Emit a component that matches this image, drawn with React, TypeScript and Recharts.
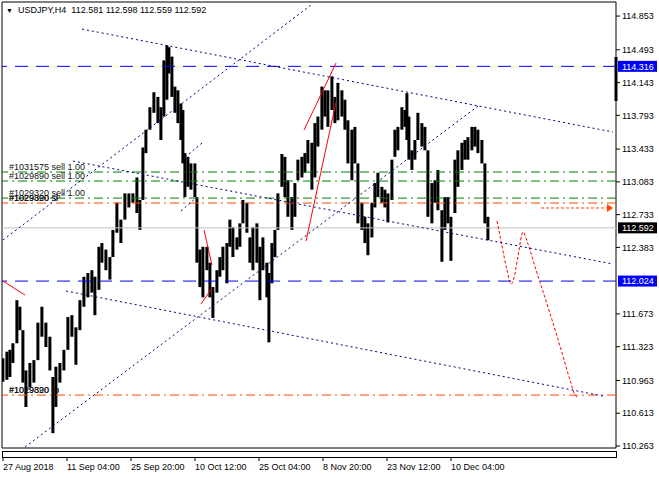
import React from "react";
import { ComposedChart, Bar, Line, XAxis, YAxis, ReferenceLine, ReferenceArea } from "recharts";

const FONT = "'Liberation Sans', Arial, sans-serif";
const NAVY = "#000080";
const BLUE = "#0000ff";
const GREEN = "#008000";
const ORANGE = "#ff4500";

// H4 bars, x = bar position on the time axis
const barX = [3, 7, 10, 13, 17, 20, 23, 26, 30, 34, 38, 42, 46, 50, 53, 56, 60, 64, 68, 72, 76, 80, 84, 88, 92, 95, 99, 102, 106, 110, 113, 117, 121, 125, 129, 133, 137, 140, 143, 146, 150, 154, 158, 161, 164, 167, 169, 172, 175, 178, 181, 183, 185, 188, 191, 195, 197, 200, 203, 207, 210, 213, 217, 220, 223, 227, 230, 233, 237, 240, 243, 247, 250, 253, 257, 260, 263, 267, 269, 272, 275, 278, 282, 285, 288, 292, 295, 298, 302, 305, 308, 312, 315, 318, 322, 325, 328, 332, 335, 338, 342, 345, 348, 352, 355, 358, 362, 365, 368, 372, 375, 378, 382, 385, 388, 392, 395, 398, 402, 405, 407, 409, 412, 415, 418, 422, 425, 428, 432, 435, 438, 442, 445, 448, 451, 455, 458, 462, 465, 468, 472, 475, 478, 482, 485, 488];
const barHigh = [111.20, 111.27, 111.29, 111.36, 111.82, 111.75, 111.50, 111.07, 111.15, 111.18, 111.58, 111.75, 111.58, 111.43, 111.00, 111.11, 111.15, 111.29, 111.64, 111.66, 111.53, 111.82, 112.07, 112.11, 112.14, 112.07, 112.39, 112.43, 112.36, 112.28, 112.57, 112.86, 112.68, 112.96, 112.96, 112.96, 113.13, 112.89, 113.45, 113.64, 113.88, 114.04, 113.99, 113.88, 114.38, 114.54, 114.52, 114.42, 114.10, 114.06, 113.92, 113.85, 113.39, 113.35, 113.28, 113.28, 112.92, 112.36, 112.39, 112.39, 112.22, 111.96, 112.14, 112.28, 112.39, 112.43, 112.68, 112.60, 112.49, 112.64, 112.89, 112.86, 112.49, 112.60, 112.64, 112.39, 112.49, 112.22, 112.11, 112.43, 112.57, 112.96, 113.38, 113.35, 113.10, 112.92, 113.07, 113.32, 113.35, 113.39, 113.53, 113.50, 113.71, 113.78, 114.10, 114.06, 114.06, 114.21, 113.99, 114.14, 114.06, 113.96, 113.74, 113.64, 113.67, 113.28, 112.86, 112.71, 112.64, 112.86, 113.07, 113.18, 113.03, 113.00, 112.96, 113.32, 113.64, 113.67, 113.88, 113.85, 114.03, 113.78, 113.42, 113.53, 113.82, 113.71, 113.67, 113.42, 113.07, 113.10, 113.21, 112.78, 112.92, 112.92, 112.71, 113.32, 113.42, 113.50, 113.53, 113.56, 113.67, 113.67, 113.64, 113.53, 113.28, 112.71];
const barLow = [110.95, 110.97, 111.00, 111.15, 111.36, 111.50, 110.94, 110.68, 110.89, 110.94, 111.18, 111.43, 111.32, 111.07, 110.40, 110.68, 110.94, 111.07, 111.29, 111.43, 111.13, 111.50, 111.75, 111.85, 111.90, 111.66, 111.93, 112.22, 112.14, 112.04, 112.28, 112.54, 112.43, 112.68, 112.81, 112.86, 112.75, 112.57, 112.89, 113.39, 113.64, 113.82, 113.71, 113.53, 113.78, 113.96, 114.24, 113.99, 113.82, 113.71, 113.53, 113.28, 112.92, 113.03, 113.00, 112.92, 112.22, 111.96, 111.85, 112.14, 111.85, 111.63, 111.90, 112.07, 112.14, 112.00, 112.39, 112.28, 112.36, 112.39, 112.64, 112.54, 112.22, 112.14, 112.22, 111.82, 112.14, 111.85, 111.37, 112.00, 112.28, 112.57, 113.03, 112.92, 112.71, 112.57, 112.71, 113.10, 113.13, 113.18, 113.28, 113.00, 113.13, 113.46, 113.64, 113.78, 113.67, 113.85, 113.71, 113.74, 113.78, 113.64, 113.28, 113.10, 113.28, 112.64, 112.57, 112.43, 112.30, 112.49, 112.81, 112.92, 112.86, 112.81, 112.65, 112.89, 113.35, 113.42, 113.64, 113.67, 113.53, 113.32, 113.21, 113.32, 113.53, 113.46, 113.42, 112.71, 112.64, 112.86, 112.78, 112.23, 112.57, 112.64, 112.24, 112.75, 113.03, 113.21, 113.32, 113.32, 113.42, 113.46, 113.39, 113.28, 112.64, 112.46];

const priceTicks = [114.853, 114.493, 114.143, 113.793, 113.433, 113.083, 112.733, 112.383, 111.673, 111.323, 110.963, 110.613, 110.263];
const dateTicks = [3, 67, 131, 195, 259, 323, 387, 451];
const dateLabels = ["27 Aug 2018", "11 Sep 04:00", "25 Sep 20:00", "10 Oct 12:00", "25 Oct 04:00", "8 Nov 20:00", "23 Nov 12:00", "10 Dec 04:00"];

const lastPrice = 112.592;
const blueLevels = [114.316, 112.024];
const sellPrices = [113.188, 113.092, 112.91];
const sellLabels = ["#1031575 sell 1.00", "#1029890 sell 1.00", "#1029320 sell 1.00"];
const stopPrices = [112.857, 110.807];
const stopLabels = [["#1029320 sl", "#1029890 sl"], ["#1029890 tp", "#1029320 tp"]];

// trend lines: [x1, price1, x2, price2]
const channelLines = [
  [82, 114.714, 613, 113.615],
  [73, 113.305, 613, 112.206],
  [66, 111.918, 603, 110.797],
  [3, 112.462, 311, 114.971],
  [25, 110.252, 478, 113.892],
  [181, 112.772, 197, 112.921],
  [185, 113.348, 202, 113.497],
];
const redLines = [
  [304, 113.636, 336, 114.351],
  [306, 112.451, 336, 113.935],
  [204, 112.569, 212, 112.195],
  [201, 111.779, 212, 111.95],
  [3, 112.024, 25, 111.875],
];

const projX = [497, 502, 507, 511, 514, 518, 523, 528, 536, 548, 560, 570, 575, 577];
const projPrice = [112.665, 112.398, 112.142, 111.992, 112.056, 112.291, 112.547, 112.419, 112.142, 111.747, 111.33, 110.968, 110.807, 110.786];
const arrowX = [541, 612];
const arrowPrice = [112.804, 112.804];

const bars = barX.map((x, i) => ({ x, range: [barLow[i], barHigh[i]] }));
const projData = projX.map((x, i) => ({ x, p: projPrice[i] }));
const arrowData = arrowX.map((x, i) => ({ x, p: arrowPrice[i] }));

const DateTick = (props: any) => {
  const { x, y, payload } = props;
  const i = dateTicks.indexOf(payload.value);
  return (
    <g>
      <line x1={x} x2={x} y1={y + 9} y2={y + 13} stroke="#000" />
      <text x={x} y={y + 21.5} fontSize={9} fontFamily={FONT} fill="#000">{dateLabels[i]}</text>
    </g>
  );
};

// each bar spans its low-high range, a little wider than the slot so neighbours join
const PriceBar = (props: any) => {
  const { x, y, width, height } = props;
  return <rect x={x + width / 2 - 1.5} y={y} width={3} height={Math.max(height, 1)} fill="#000" />;
};

const priceTag = (text: string, bg: string) => (props: any) => {
  const { x, y, width } = props.viewBox;
  return (
    <g>
      <rect x={x + width + 2} y={y - 5.5} width={39} height={11} fill={bg} />
      <text x={x + width + 6} y={y + 3.3} fontSize={9} fontFamily={FONT} fill="#fff">{text}</text>
    </g>
  );
};

const orderText = (lines: string[], dy: number) => (props: any) => {
  const { x, y } = props.viewBox;
  return (
    <g>
      {lines.map((t) => (
        <text key={t} x={x + 7} y={y + dy} fontSize={9} fontFamily={FONT} fill="#111">{t}</text>
      ))}
    </g>
  );
};

const arrowDot = (props: any) => {
  const { cx, cy, index } = props;
  if (index !== 1) return <g key={index} />;
  return <polygon key={index} points={`${cx - 5},${cy - 4} ${cx + 1},${cy} ${cx - 5},${cy + 4}`} fill={ORANGE} />;
};

export default function App() {
  return (
    <div style={{ position: "absolute", left: 0, top: 0, width: 659, height: 478, background: "#fff", fontFamily: FONT }}>
      <ComposedChart width={659} height={478} data={bars} margin={{ top: 2, right: 0, bottom: 0, left: 2 }}>
        <XAxis dataKey="x" type="number" domain={[2, 616]} ticks={dateTicks} interval={0} allowDataOverflow
          axisLine={false} tickLine={false} tickSize={0} tickMargin={0} height={30} tick={<DateTick />} />
        <YAxis type="number" orientation="right" domain={[110.242, 115.003]} ticks={priceTicks} interval={0} allowDataOverflow
          width={43} axisLine={false} tickSize={4} tickMargin={2} tickLine={{ stroke: "#000" }}
          tickFormatter={(v: number) => v.toFixed(3)} tick={{ fontSize: 9, fill: "#000", fontFamily: FONT }} />

        <ReferenceLine y={lastPrice} stroke="#c0c0c0" label={priceTag(lastPrice.toFixed(3), "#000")} />

        <Bar dataKey="range" fill="#000" barSize={2} shape={PriceBar} isAnimationActive={false} />

        {blueLevels.map((p) => (
          <ReferenceLine key={p} y={p} stroke={BLUE} strokeDasharray="13 8" label={priceTag(p.toFixed(3), BLUE)} zIndex={700} />
        ))}
        {sellPrices.map((p, i) => (
          <ReferenceLine key={p} y={p} stroke={GREEN} strokeDasharray="9 4 2 4" label={orderText([sellLabels[i]], -2.5)} zIndex={700} />
        ))}
        {stopPrices.map((p, i) => (
          <ReferenceLine key={p} y={p} stroke={ORANGE} strokeDasharray="9 4 2 4" label={orderText(stopLabels[i], -2)} zIndex={700} />
        ))}
        {channelLines.map((l, i) => (
          <ReferenceLine key={"c" + i} segment={[{ x: l[0], y: l[1] }, { x: l[2], y: l[3] }]} stroke={NAVY} strokeDasharray="2 3" zIndex={700} />
        ))}
        {redLines.map((l, i) => (
          <ReferenceLine key={"r" + i} segment={[{ x: l[0], y: l[1] }, { x: l[2], y: l[3] }]} stroke="#ff0000" zIndex={700} />
        ))}
        <ReferenceLine segment={[{ x: 616, y: 114.416 }, { x: 616, y: 113.946 }]} stroke="#000" strokeWidth={3} ifOverflow="visible" />

        <Line data={projData} dataKey="p" type="monotone" stroke="#ff0000" strokeDasharray="3 2" dot={false} isAnimationActive={false} />
        <Line data={arrowData} dataKey="p" stroke={ORANGE} strokeDasharray="3 2" dot={arrowDot} isAnimationActive={false} />

        <ReferenceArea x1={2} x2={616} y1={110.242} y2={115.003} fill="none" stroke="#000" ifOverflow="visible" />
      </ComposedChart>
      <div style={{ position: "absolute", left: 2, top: 451, width: 615, height: 7, boxSizing: "border-box", border: "1px solid #000" }} />
      <div style={{ position: "absolute", left: 6, top: 5, fontSize: 9, lineHeight: "11px", color: "#000", whiteSpace: "pre" }}>
        <span style={{ fontSize: 7 }}>▼</span>{"  USDJPY,H4  112.581 112.598 112.559 112.592"}
      </div>
    </div>
  );
}
